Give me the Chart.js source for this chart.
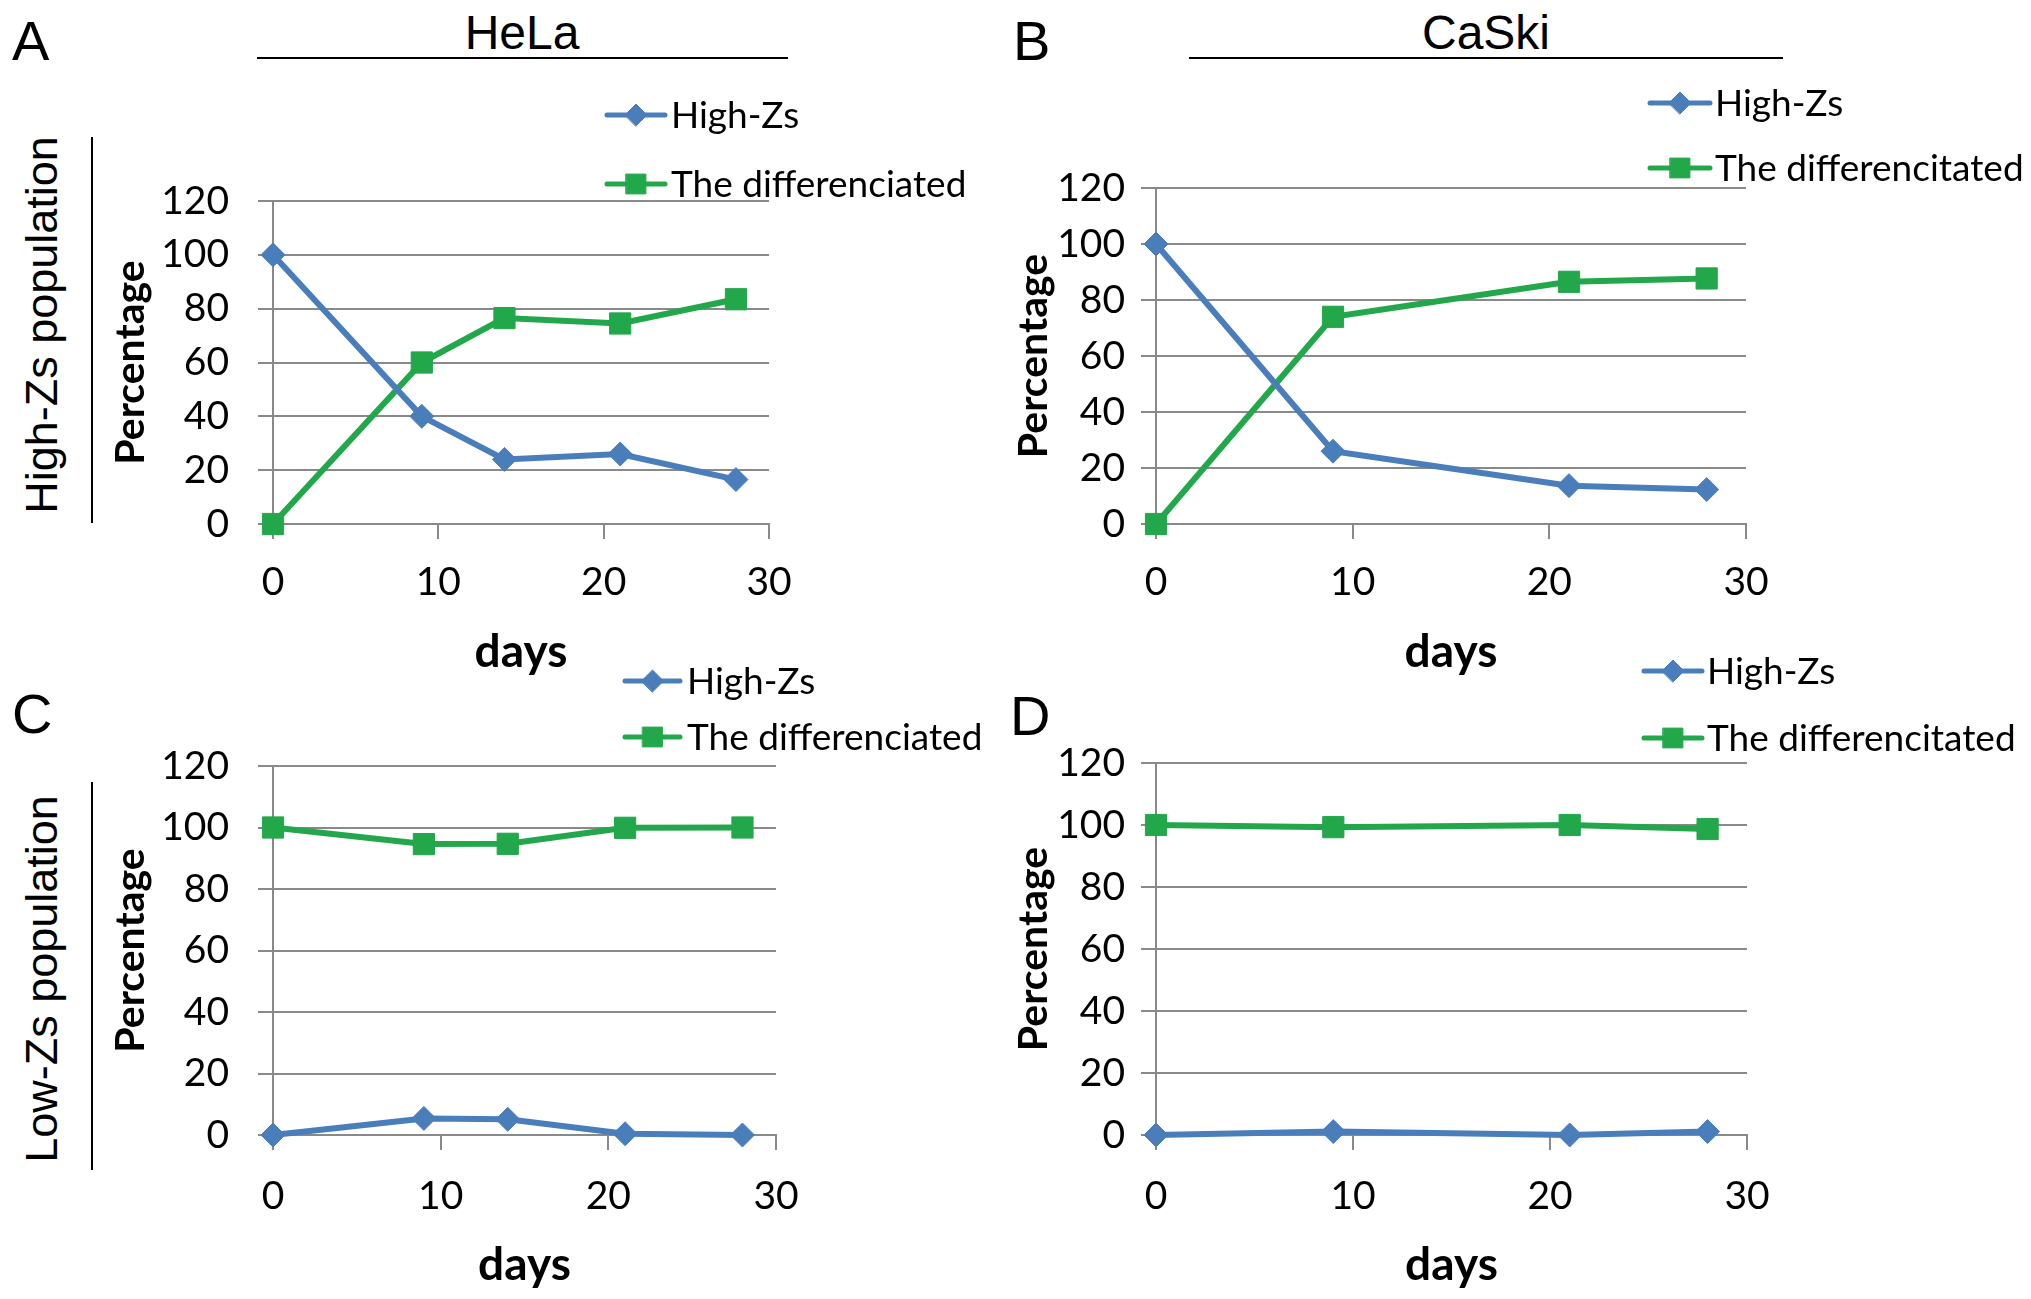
<!DOCTYPE html>
<html>
<head>
<meta charset="utf-8">
<script src="https://cdn.jsdelivr.net/npm/chart.js@4.4.1/dist/chart.umd.min.js"></script>
<style>
html,body{margin:0;padding:0;background:#fff;}
#page{position:relative;width:2031px;height:1299px;overflow:hidden;background:#fff;}
canvas{position:absolute;}
.t{position:absolute;white-space:nowrap;color:#000;line-height:1;font-family:'Liberation Sans',Arial,sans-serif;}
.rot{position:absolute;white-space:nowrap;color:#000;line-height:1;font-family:'Liberation Sans',Arial,sans-serif;font-size:45px;transform:translate(-50%,-50%) rotate(-90deg);}
.rule{position:absolute;background:#000;}
</style>
</head>
<body>
<div id="page">
  <div class="t" style="left:12px;top:13px;font-size:56px">A</div>
  <div class="t" style="left:1013px;top:13px;font-size:56px">B</div>
  <div class="t" style="left:12px;top:686px;font-size:56px">C</div>
  <div class="t" style="left:1010px;top:688px;font-size:56px">D</div>

  <div class="t" style="left:522px;top:9px;font-size:48px;transform:translateX(-50%)">HeLa</div>
  <div class="t" style="left:1486px;top:9px;font-size:48px;transform:translateX(-50%)">CaSki</div>
  <div class="rule" style="left:257px;top:57px;width:531px;height:2px"></div>
  <div class="rule" style="left:1189px;top:57px;width:594px;height:2px"></div>

  <div class="rot" style="left:41px;top:325px">High-Zs population</div>
  <div class="rot" style="left:41px;top:979px">Low-Zs population</div>
  <div class="rule" style="left:91px;top:137px;width:2px;height:386px"></div>
  <div class="rule" style="left:91px;top:782px;width:2px;height:388px"></div>

  <canvas id="cA" width="920" height="640" style="left:100px;top:60px;width:920px;height:640px"></canvas>
  <canvas id="cB" width="1031" height="640" style="left:1000px;top:60px;width:1031px;height:640px"></canvas>
  <canvas id="cC" width="920" height="669" style="left:100px;top:630px;width:920px;height:669px"></canvas>
  <canvas id="cD" width="1031" height="669" style="left:1000px;top:630px;width:1031px;height:669px"></canvas>
</div>
<script>
// ---- data ----
const daysHeLa = [0, 9, 14, 21, 28];
const daysCaSki = [0, 9, 21, 28];

// A: HeLa, High-Zs population
const helaHighPop_HighZs = [100, 40, 24, 26, 16.5];
const helaHighPop_Diff   = [0, 60, 76.5, 74.5, 83.5];
// B: CaSki, High-Zs population
const caskiHighPop_HighZs = [100, 26, 13.7, 12.3];
const caskiHighPop_Diff   = [0, 74, 86.5, 87.7];
// C: HeLa, Low-Zs population
const helaLowPop_HighZs = [0, 5.4, 5.1, 0.4, 0];
const helaLowPop_Diff   = [100, 94.6, 94.7, 99.9, 100];
// D: CaSki, Low-Zs population
const caskiLowPop_HighZs = [0, 1.1, 0, 1.1];
const caskiLowPop_Diff   = [100, 99.3, 100, 98.7];

const yTickValues = [0, 20, 40, 60, 80, 100, 120];
const xTickValues = [0, 10, 20, 30];

const labelHighZs = 'High-Zs';
const labelDiffHeLa = 'The differenciated';
const labelDiffCaSki = 'The differencitated';

// ---- styles ----
const BLUE = '#4A7EBB';
const GREEN = '#22A84B';
const GRID = '#898989';

const legendPlugin = {
  id: 'placedLegend',
  afterDraw(chart, args, opts) {
    const ctx = chart.ctx;
    chart.data.datasets.forEach((ds, i) => {
      const y = opts.y[i];
      ctx.save();
      ctx.strokeStyle = ds.borderColor;
      ctx.lineWidth = 5;
      ctx.lineCap = 'round';
      ctx.beginPath();
      ctx.moveTo(opts.x1, y);
      ctx.lineTo(opts.x2, y);
      ctx.stroke();
      ctx.fillStyle = ds.backgroundColor;
      ctx.strokeStyle = ds.borderColor;
      ctx.lineWidth = 1;
      Chart.helpers.drawPoint(ctx, {pointStyle: ds.pointStyle, radius: ds.pointRadius - 1, borderWidth: 1, rotation: 0}, (opts.x1 + opts.x2) / 2, y);
      ctx.fillStyle = '#000';
      ctx.font = '37px Lato';
      ctx.textBaseline = 'alphabetic';
      ctx.textAlign = 'left';
      ctx.fillText(ds.label, opts.tx, y + 13);
      ctx.restore();
    });
  }
};

function toXY(days, vals) { return days.map((d, i) => ({x: d, y: vals[i]})); }

function panel(id, days, high, diff, diffLabel, g) {
  return new Chart(document.getElementById(id), {
    type: 'line',
    data: {
      datasets: [
        {label: labelHighZs, data: toXY(days, high), borderColor: BLUE, backgroundColor: BLUE,
         borderWidth: 6, pointStyle: 'rectRot', pointRadius: 12, pointBorderWidth: 1, clip: false, tension: 0},
        {label: diffLabel, data: toXY(days, diff), borderColor: GREEN, backgroundColor: GREEN,
         borderWidth: 6, pointStyle: 'rect', pointRadius: 15, pointBorderWidth: 1, clip: false, tension: 0}
      ]
    },
    options: {
      responsive: false,
      animation: false,
      devicePixelRatio: 1,
      layout: {padding: {left: 0, top: g.top, right: g.right, bottom: 0}},
      plugins: {
        legend: {display: false},
        tooltip: {enabled: false},
        placedLegend: g.legend
      },
      scales: {
        x: {
          type: 'linear', min: 0, max: 30,
          afterBuildTicks: s => { s.ticks = xTickValues.map(v => ({value: v})); },
          afterFit: s => { s.height = g.xh; },
          grid: {drawOnChartArea: false, drawTicks: true, tickLength: 15, color: GRID, lineWidth: 2},
          border: {display: true, color: GRID, width: 2},
          ticks: {font: {family: 'Lato', size: 39}, color: '#000', padding: g.xpad, maxRotation: 0, autoSkip: false},
          title: {display: true, text: 'days', color: '#000', font: {family: 'Lato', size: 46, weight: 'bold'}, padding: {top: 0, bottom: g.dpad}}
        },
        y: {
          type: 'linear', min: 0, max: 120,
          afterBuildTicks: s => { s.ticks = yTickValues.map(v => ({value: v})); },
          afterFit: s => { s.width = g.yw; },
          grid: {color: GRID, lineWidth: 2, drawTicks: true, tickLength: 15},
          border: {display: true, color: GRID, width: 2},
          ticks: {font: {family: 'Lato', size: 39}, color: '#000', padding: g.ypad, autoSkip: false},
          title: {display: true, text: 'Percentage', color: '#000', font: {family: 'Lato', size: 41, weight: 'bold'}, padding: {top: g.ptop, bottom: 0}}
        }
      }
    },
    plugins: [legendPlugin]
  });
}

panel('cA', daysHeLa, helaHighPop_HighZs, helaHighPop_Diff, labelDiffHeLa,
  {yw: 173, top: 141, right: 251, xh: 176, ypad: 29, xpad: 20, ptop: 6, dpad: 20.4,
   legend: {x1: 507, x2: 565, tx: 571, y: [55, 124]}});
panel('cB', daysCaSki, caskiHighPop_HighZs, caskiHighPop_Diff, labelDiffCaSki,
  {yw: 156, top: 128, right: 285, xh: 176, ypad: 16, xpad: 20, ptop: 9, dpad: 20.4,
   legend: {x1: 650, x2: 710, tx: 715, y: [43, 108]}});
panel('cC', daysHeLa, helaLowPop_HighZs, helaLowPop_Diff, labelDiffHeLa,
  {yw: 173, top: 136, right: 244, xh: 164, ypad: 29, xpad: 23, ptop: 6, dpad: 6.4,
   legend: {x1: 525, x2: 580, tx: 587, y: [51, 107]}});
panel('cD', daysCaSki, caskiLowPop_HighZs, caskiLowPop_Diff, labelDiffCaSki,
  {yw: 156, top: 133, right: 284, xh: 164, ypad: 16, xpad: 23, ptop: 9, dpad: 6.4,
   legend: {x1: 644, x2: 702, tx: 707, y: [41, 108]}});
</script>
</body>
</html>
